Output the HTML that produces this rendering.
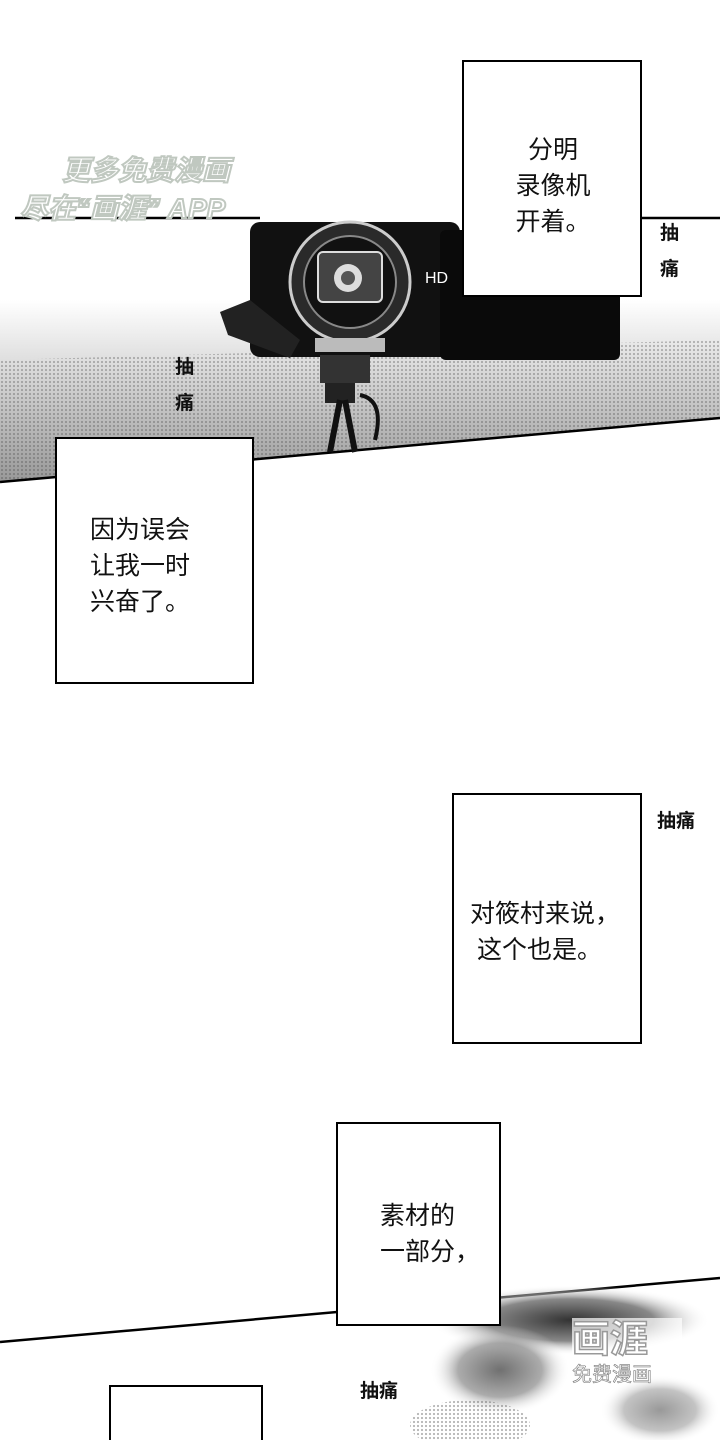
<!DOCTYPE html>
<html><head><meta charset="utf-8"><style>
html,body{margin:0;padding:0;background:#fff;}
.wrap{position:relative;width:720px;height:1440px;overflow:hidden;background:#fff;font-family:"Liberation Sans","Noto Sans CJK SC",sans-serif;}
svg{position:absolute;left:0;top:0;}
.t{position:absolute;font-size:25px;line-height:36px;color:#111;white-space:nowrap;}
.s{position:absolute;font-size:19px;font-weight:bold;color:#111;line-height:36px;}
</style></head><body><div class="wrap">
<svg width="720" height="1440" viewBox="0 0 720 1440">
<defs>
<linearGradient id="g" x1="0" y1="0" x2="0" y2="1">
<stop offset="0" stop-color="#fff"/><stop offset="0.35" stop-color="#ddd"/><stop offset="1" stop-color="#999"/>
</linearGradient>
<pattern id="dots" width="4" height="4" patternUnits="userSpaceOnUse"><circle cx="2" cy="2" r="1.1" fill="#444"/></pattern>
<radialGradient id="sp" cx="0.5" cy="0.5" r="0.5"><stop offset="0" stop-color="#333"/><stop offset="0.6" stop-color="#888"/><stop offset="1" stop-color="#fff" stop-opacity="0"/></radialGradient>
</defs>
<polygon points="0,300 720,300 720,418 0,482" fill="url(#g)"/>
<polygon points="0,360 720,340 720,418 0,482" fill="url(#dots)" opacity="0.35"/>
<line x1="0" y1="482" x2="720" y2="418" stroke="#000" stroke-width="2.5"/>
<line x1="15" y1="218" x2="260" y2="218" stroke="#000" stroke-width="2.5"/>
<line x1="640" y1="218" x2="720" y2="218" stroke="#000" stroke-width="2.5"/>
<rect x="250" y="222" width="210" height="135" rx="10" fill="#111"/>
<rect x="440" y="230" width="180" height="130" rx="6" fill="#0a0a0a"/>
<path d="M220,312 L250,300 L300,340 L290,358 L228,335 Z" fill="#222"/>
<rect x="320" y="355" width="50" height="28" fill="#333"/>
<rect x="325" y="383" width="30" height="20" fill="#222"/>
<line x1="340" y1="400" x2="330" y2="452" stroke="#111" stroke-width="6"/>
<line x1="345" y1="400" x2="355" y2="452" stroke="#111" stroke-width="6"/>
<path d="M360,395 Q385,400 375,440" stroke="#111" stroke-width="4" fill="none"/>
<circle cx="350" cy="282" r="60" fill="#2a2a2a" stroke="#ccc" stroke-width="3"/>
<circle cx="350" cy="282" r="46" fill="#111" stroke="#888" stroke-width="2"/>
<rect x="318" y="252" width="64" height="50" rx="5" fill="#444" stroke="#ddd" stroke-width="2"/>
<circle cx="348" cy="278" r="14" fill="#ddd"/><circle cx="348" cy="278" r="7" fill="#555"/>
<rect x="315" y="338" width="70" height="14" fill="#bbb"/>
<text x="425" y="283" font-family="Liberation Sans" font-size="16" fill="#fff">HD</text>
<line x1="0" y1="1342" x2="720" y2="1278" stroke="#000" stroke-width="2.5"/>
<ellipse cx="570" cy="1320" rx="140" ry="35" fill="url(#sp)"/>
<ellipse cx="500" cy="1370" rx="70" ry="45" fill="url(#sp)" opacity="0.7"/>
<ellipse cx="660" cy="1410" rx="60" ry="35" fill="url(#sp)" opacity="0.5"/>
<ellipse cx="470" cy="1425" rx="60" ry="25" fill="url(#dots)" opacity="0.4"/>
<rect x="463" y="61" width="178" height="235" fill="#fff" stroke="#000" stroke-width="2"/>
<rect x="56" y="438" width="197" height="245" fill="#fff" stroke="#000" stroke-width="2"/>
<rect x="453" y="794" width="188" height="249" fill="#fff" stroke="#000" stroke-width="2"/>
<rect x="337" y="1123" width="163" height="202" fill="#fff" stroke="#000" stroke-width="2"/>
<rect x="110" y="1386" width="152" height="70" fill="#fff" stroke="#000" stroke-width="2"/>
<text x="62" y="180" font-family="Liberation Sans,Noto Sans CJK SC,sans-serif" font-size="28" font-weight="bold" fill="#fff" stroke="#c0c8c0" stroke-width="2" font-style="italic">更多免费漫画</text>
<text x="20" y="218" font-family="Liberation Sans,Noto Sans CJK SC,sans-serif" font-size="28" font-weight="bold" fill="#fff" stroke="#c0c8c0" stroke-width="2" font-style="italic">尽在“画涯” APP</text>
<rect x="572" y="1318" width="110" height="40" fill="#fff" opacity="0.7"/>
<text x="572" y="1352" font-family="Liberation Sans,Noto Sans CJK SC,sans-serif" font-size="38" font-weight="bold" fill="#fff" stroke="#999" stroke-width="1.5">画涯</text>
<text x="572" y="1381" font-family="Liberation Sans,Noto Sans CJK SC,sans-serif" font-size="20" fill="#fff" stroke="#777" stroke-width="0.6">免费漫画</text>
</svg>
<div class="t" style="left:508px;top:132px;text-align:center;width:90px;">分明<br>录像机<br>开着。</div>
<div class="t" style="left:90px;top:512px;">因为误会<br>让我一时<br>兴奋了。</div>
<div class="t" style="left:470px;top:896px;">对筱村来说，<br>&nbsp;这个也是。</div>
<div class="t" style="left:380px;top:1198px;">素材的<br>一部分，</div>
<div class="s" style="left:660px;top:216px;">抽<br>痛</div>
<div class="s" style="left:175px;top:350px;">抽<br>痛</div>
<div class="s" style="left:657px;top:804px;">抽痛</div>
<div class="s" style="left:360px;top:1374px;">抽痛</div>
</div></body></html>
